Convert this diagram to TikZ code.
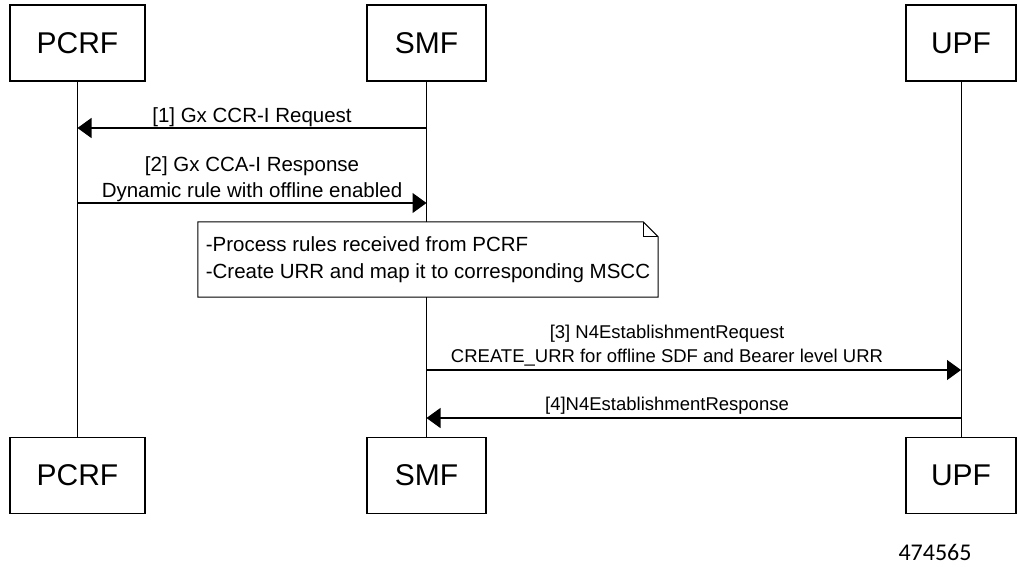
\documentclass[tikz,border=0pt]{standalone}
\usepackage{fontspec}
\setmainfont{Liberation Sans}
\newfontfamily\idfont{Carlito}
\usetikzlibrary{arrows.meta}

\begin{document}
\begin{tikzpicture}[x=1pt, y=-1pt]
	\tikzstyle{every node}=[inner sep=1pt, align=center]
	\tikzstyle{actor}=[draw, line width=1.3pt, fill=white, minimum height=76pt, font=\fontsize{30}{36}\selectfont]
	\tikzstyle{msg}=[line width=1.1pt, -{Triangle[length=14pt, width=20pt]}]
	\tikzstyle{lbl}=[font=\fontsize{20.5}{26}\selectfont]
	\tikzstyle{lbls}=[font=\fontsize{18.5}{24.5}\selectfont]
	\useasboundingbox (0,0) rectangle (1017,566);
	% participants
	\node[actor, minimum width=135pt] (PCRF) at (77.5,43) {PCRF};
	\node[actor, minimum width=119pt] (SMF) at (426.5,43) {SMF};
	\node[actor, minimum width=110pt] (UPF) at (961,43) {UPF};
	\node[actor, minimum width=135pt] (PCRFb) at (77.5,475.5) {PCRF};
	\node[actor, minimum width=119pt] (SMFb) at (426.5,475.5) {SMF};
	\node[actor, minimum width=110pt] (UPFb) at (961,475.5) {UPF};
	\draw [line width=1pt] (PCRF) -- (PCRFb);
	\draw [line width=1pt] (SMF) -- (SMFb);
	\draw [line width=1pt] (UPF) -- (UPFb);
	% message ends
	\coordinate (p1) at (77.5,128);
	\coordinate (s1) at (426.5,128);
	\coordinate (p2) at (77.5,203);
	\coordinate (s2) at (426.5,203);
	\coordinate (s3) at (426.5,370);
	\coordinate (u3) at (961,370);
	\coordinate (s4) at (426.5,418);
	\coordinate (u4) at (961,418);
	\draw [msg] (s1) -- (p1) node[lbl, midway, above] {[1] Gx CCR-I Request};
	\draw [msg] (p2) -- (s2) node[lbl, midway, above] {[2] Gx CCA-I Response\\Dynamic rule with offline enabled};
	% note
	\node[lbl, fill=white, minimum width=460pt, minimum height=75pt, align=left, font=\fontsize{20.5}{26.7}\selectfont] (note) at (428,259.5)
		{-Process rules received from PCRF\\-Create URR and map it to corresponding MSCC};
	\draw [line width=1pt] (note.north west) -- ([xshift=-15pt]note.north east) -- ([yshift=-15pt]note.north east)
		-- (note.south east) -- (note.south west) -- cycle;
	\draw [line width=0.8pt] ([xshift=-15pt]note.north east) -- ([xshift=-15pt, yshift=-15pt]note.north east) -- ([yshift=-15pt]note.north east);
	\draw [msg] (s3) -- (u3) node[lbls, pos=0.45, above=2pt] {[3] N4EstablishmentRequest\\CREATE\_URR for offline SDF and Bearer level URR};
	\draw [msg] (u4) -- (s4) node[lbls, pos=0.55, above=2pt] {[4]N4EstablishmentResponse};
	\node[font=\idfont\fontsize{24}{28}\selectfont] (fig) at (935,552) {474565};
\end{tikzpicture}
\end{document}
